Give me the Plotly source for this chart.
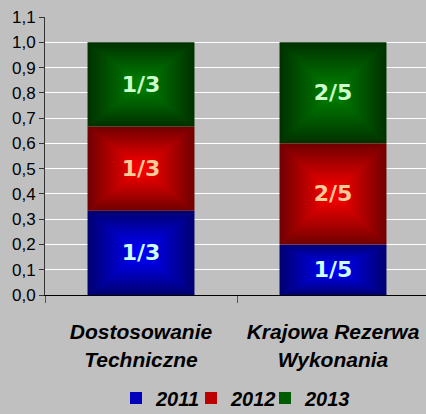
import plotly.graph_objects as go

categories = ["Dostosowanie<br>Techniczne", "Krajowa Rezerwa<br>Wykonania"]
series_names = ["2011", "2012", "2013"]
values_2011 = [1/3, 1/5]
values_2012 = [1/3, 2/5]
values_2013 = [1/3, 2/5]
labels_2011 = ["1/3", "1/5"]
labels_2012 = ["1/3", "2/5"]
labels_2013 = ["1/3", "2/5"]

series_values = [values_2011, values_2012, values_2013]
series_labels = [labels_2011, labels_2012, labels_2013]
dark_colors = [(0, 0, 115), (115, 0, 0), (0, 50, 0)]
bright_colors = [(0, 0, 255), (255, 0, 0), (0, 130, 0)]
text_colors = ["#ccffff", "#ffcc99", "#ccffcc"]
legend_ids = ["legend", "legend2", "legend3"]
legend_x_px = [116, 191, 265]

BAR_W = 0.557
N = 24

fig = go.Figure()
bases = [0.0] * len(categories)
label_traces = []
for si, (name, vals) in enumerate(zip(series_names, series_values)):
    d, b = dark_colors[si], bright_colors[si]
    for k in range(N):
        s = 1 - k / N
        t = k / (N - 1)
        col = "rgb(%d,%d,%d)" % tuple(round(d[c] + (b[c] - d[c]) * t) for c in range(3))
        fig.add_trace(go.Bar(
            x=categories,
            y=[v * s for v in vals],
            base=[bases[i] + vals[i] * (1 - s) / 2 for i in range(len(vals))],
            width=[BAR_W * s] * len(vals),
            marker=dict(color=col, line=dict(width=0)),
            name=name,
            legend=legend_ids[si],
            showlegend=(k == N // 2),
            hoverinfo="skip",
        ))
    label_traces.append(go.Bar(
        x=categories,
        y=vals,
        base=list(bases),
        width=[BAR_W] * len(vals),
        marker=dict(color="rgba(0,0,0,0)", line=dict(width=0)),
        text=series_labels[si],
        textposition="inside",
        insidetextanchor="middle",
        textangle=0,
        constraintext="none",
        textfont=dict(family="DejaVu Sans", size=22, color=text_colors[si], weight="bold"),
        showlegend=False,
        hoverinfo="skip",
    ))
    bases = [bases[i] + vals[i] for i in range(len(vals))]

for tr in label_traces:
    fig.add_trace(tr)

bg = "#c0c0c0"
legend_font = dict(family="Liberation Sans", size=20, style="italic", weight="bold", color="black")
legends = {}
for lid, lx in zip(legend_ids, legend_x_px):
    legends[lid] = dict(
        orientation="h", xref="container", x=lx / 426, xanchor="left",
        yref="container", y=16 / 414, yanchor="middle",
        font=legend_font, bgcolor="rgba(0,0,0,0)",
        itemclick=False, itemdoubleclick=False,
    )

fig.update_layout(
    width=426, height=414,
    margin=dict(l=45, r=0, t=17, b=119),
    paper_bgcolor=bg, plot_bgcolor=bg,
    barmode="overlay",
    separators=", ",
    font=dict(family="Liberation Sans", color="black"),
    xaxis=dict(
        range=[-0.5, -0.5 + 381 / 192],
        showgrid=False,
        showline=True, linecolor="black", linewidth=1,
        ticks="outside", tickson="boundaries", ticklen=7, tickcolor="#555555",
        tickfont=dict(family="Liberation Sans", size=21, style="italic", weight="bold", color="black"),
        ticklabelstandoff=18,
        zeroline=False,
    ),
    yaxis=dict(
        range=[0, 1.1], dtick=0.1, tick0=0, tickformat=".1f",
        showgrid=True, gridcolor="white", gridwidth=1,
        showline=True, linecolor="#333333", linewidth=1,
        ticks="outside", ticklen=5, tickcolor="#333333",
        tickfont=dict(family="Liberation Sans", size=17, color="black"),
        zeroline=False,
    ),
    **legends,
)

fig.write_html(
    "out.html",
    config={"displayModeBar": False},
    post_script="document.body.style.margin='0';document.body.style.overflow='hidden';",
)
